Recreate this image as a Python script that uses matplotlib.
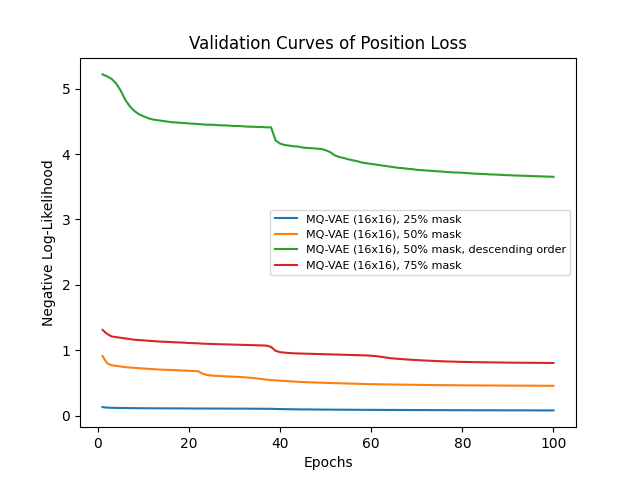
import matplotlib
matplotlib.use("Agg")
import matplotlib.pyplot as plt

epochs = list(range(1, 101))

loss_25 = [0.130, 0.122, 0.119, 0.117, 0.116, 0.115, 0.114, 0.113, 0.113, 0.112,
           0.112, 0.111, 0.111, 0.111, 0.110, 0.110, 0.110, 0.109, 0.109, 0.109,
           0.108, 0.108, 0.108, 0.108, 0.107, 0.107, 0.107, 0.107, 0.106, 0.106,
           0.106, 0.106, 0.105, 0.105, 0.105, 0.104, 0.104, 0.103, 0.101, 0.099,
           0.098, 0.097, 0.096, 0.095, 0.094, 0.094, 0.093, 0.092, 0.092, 0.091,
           0.091, 0.090, 0.090, 0.089, 0.089, 0.089, 0.088, 0.088, 0.088, 0.087,
           0.087, 0.087, 0.086, 0.086, 0.086, 0.085, 0.085, 0.085, 0.084, 0.084,
           0.084, 0.084, 0.083, 0.083, 0.083, 0.083, 0.082, 0.082, 0.082, 0.082,
           0.082, 0.081, 0.081, 0.081, 0.081, 0.081, 0.081, 0.080, 0.080, 0.080,
           0.080, 0.080, 0.080, 0.080, 0.079, 0.079, 0.079, 0.079, 0.079, 0.079]

loss_50 = [0.910, 0.800, 0.770, 0.760, 0.750, 0.740, 0.735, 0.730, 0.725, 0.720,
           0.715, 0.710, 0.706, 0.703, 0.700, 0.697, 0.694, 0.691, 0.688, 0.685,
           0.682, 0.678, 0.640, 0.620, 0.612, 0.607, 0.603, 0.600, 0.597, 0.594,
           0.590, 0.586, 0.581, 0.575, 0.567, 0.558, 0.550, 0.543, 0.538, 0.534,
           0.530, 0.525, 0.520, 0.516, 0.513, 0.510, 0.508, 0.505, 0.503, 0.500,
           0.498, 0.496, 0.494, 0.492, 0.490, 0.488, 0.486, 0.484, 0.482, 0.481,
           0.480, 0.478, 0.477, 0.476, 0.475, 0.474, 0.473, 0.472, 0.471, 0.470,
           0.469, 0.468, 0.467, 0.466, 0.466, 0.465, 0.464, 0.464, 0.463, 0.463,
           0.462, 0.462, 0.461, 0.461, 0.460, 0.460, 0.460, 0.459, 0.459, 0.459,
           0.458, 0.458, 0.458, 0.457, 0.457, 0.457, 0.456, 0.456, 0.456, 0.455]

loss_50_desc = [5.22, 5.19, 5.15, 5.08, 4.97, 4.83, 4.73, 4.66, 4.61, 4.58,
                4.55, 4.53, 4.52, 4.51, 4.50, 4.49, 4.485, 4.48, 4.475, 4.47,
                4.465, 4.46, 4.455, 4.45, 4.45, 4.445, 4.44, 4.44, 4.435, 4.43,
                4.43, 4.425, 4.42, 4.42, 4.415, 4.415, 4.41, 4.41, 4.21, 4.16,
                4.14, 4.13, 4.12, 4.115, 4.10, 4.095, 4.09, 4.085, 4.08, 4.06,
                4.03, 3.98, 3.955, 3.94, 3.92, 3.905, 3.89, 3.87, 3.86, 3.85,
                3.84, 3.83, 3.82, 3.81, 3.80, 3.79, 3.785, 3.775, 3.77, 3.76,
                3.755, 3.75, 3.745, 3.74, 3.735, 3.73, 3.725, 3.72, 3.718, 3.715,
                3.71, 3.705, 3.70, 3.698, 3.695, 3.69, 3.688, 3.685, 3.68, 3.678,
                3.675, 3.672, 3.67, 3.668, 3.665, 3.662, 3.66, 3.658, 3.655, 3.653]

loss_75 = [1.310, 1.250, 1.210, 1.200, 1.190, 1.180, 1.170, 1.160, 1.155, 1.150,
           1.145, 1.140, 1.135, 1.130, 1.128, 1.125, 1.120, 1.118, 1.115, 1.110,
           1.108, 1.105, 1.100, 1.098, 1.095, 1.093, 1.091, 1.089, 1.087, 1.085,
           1.083, 1.081, 1.079, 1.077, 1.075, 1.073, 1.070, 1.050, 0.990, 0.970,
           0.962, 0.957, 0.953, 0.950, 0.948, 0.946, 0.944, 0.942, 0.940, 0.938,
           0.936, 0.934, 0.932, 0.930, 0.928, 0.926, 0.924, 0.922, 0.920, 0.915,
           0.910, 0.900, 0.890, 0.880, 0.873, 0.867, 0.862, 0.857, 0.853, 0.849,
           0.845, 0.841, 0.838, 0.835, 0.832, 0.829, 0.827, 0.825, 0.823, 0.821,
           0.820, 0.818, 0.817, 0.816, 0.815, 0.814, 0.813, 0.812, 0.811, 0.810,
           0.809, 0.809, 0.808, 0.808, 0.807, 0.807, 0.806, 0.806, 0.805, 0.805]

labels = ["MQ-VAE (16x16), 25% mask",
          "MQ-VAE (16x16), 50% mask",
          "MQ-VAE (16x16), 50% mask, descending order",
          "MQ-VAE (16x16), 75% mask"]

fig, ax = plt.subplots(figsize=(6.4, 4.8), dpi=100)
for series, label in zip([loss_25, loss_50, loss_50_desc, loss_75], labels):
    ax.plot(epochs, series, label=label)

ax.set_title("Validation Curves of Position Loss")
ax.set_xlabel("Epochs")
ax.set_ylabel("Negative Log-Likelihood")
ax.legend(loc="center right", fontsize=8)

plt.savefig("out.png")
